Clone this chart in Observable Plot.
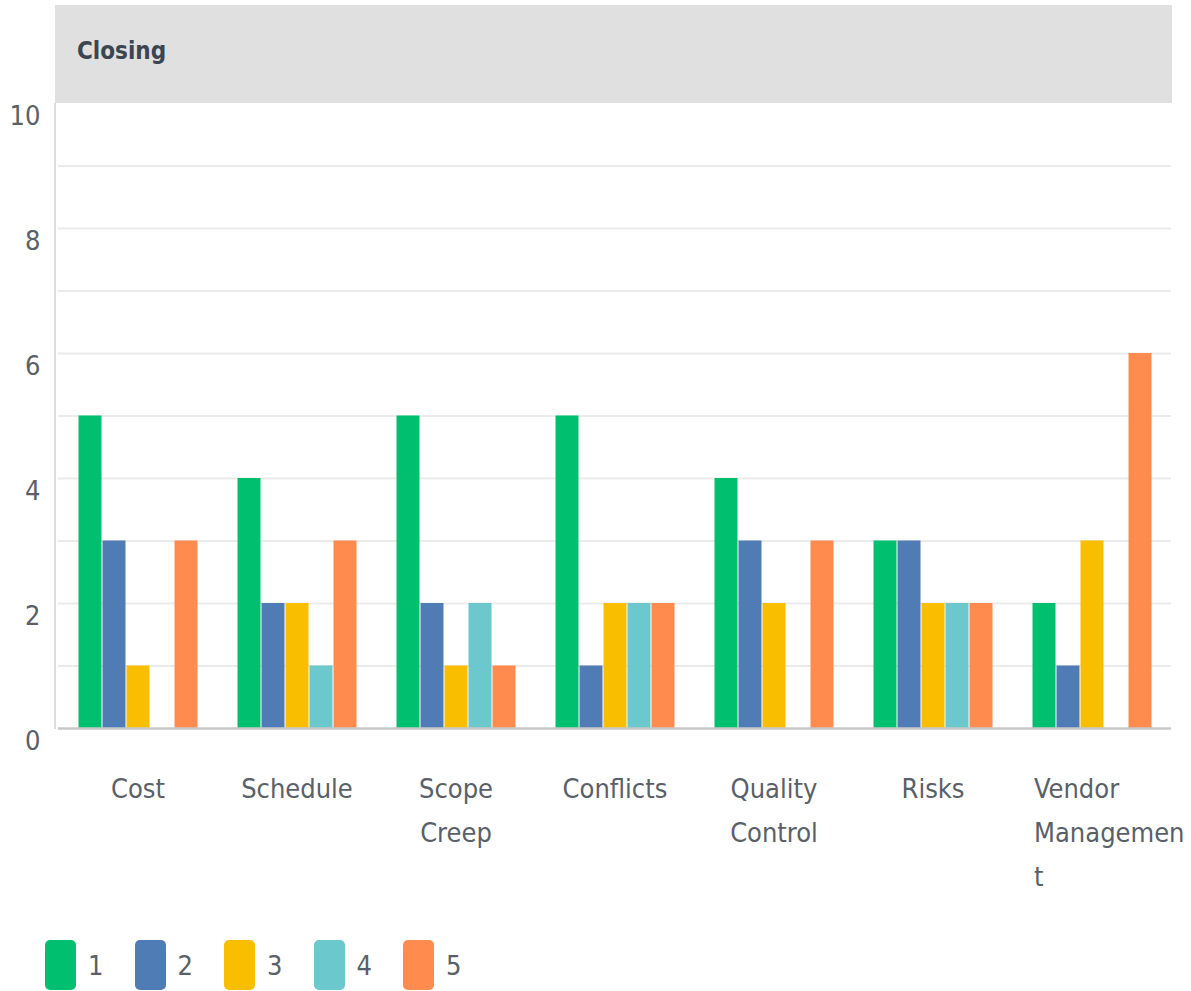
<!DOCTYPE html>
<html>
<head>
<meta charset="utf-8">
<script src="https://cdn.jsdelivr.net/npm/d3@7"></script>
<script src="https://cdn.jsdelivr.net/npm/@observablehq/plot@0.6"></script>
<style>
  html, body { margin: 0; padding: 0; background: #fff; }
  body { width: 1191px; height: 991px; overflow: hidden; position: relative;
         font-family: "DejaVu Sans Condensed", "DejaVu Sans", sans-serif; }
  #wrap { position: absolute; left: 0; top: 0; width: 1191px; height: 991px; }
  #header { position: absolute; left: 55px; top: 5px; width: 1117px; height: 98px; background: #e0e0e0;
            box-sizing: border-box; padding-left: 22px; line-height: 92px; font-size: 24px; font-weight: bold; color: #3b4650; }
  #leftline { position: absolute; left: 54px; top: 103px; width: 2px; height: 626px; background: #dcdcdc; }
  #chart { position: absolute; left: 0; top: 103px; width: 1191px; }
  #chart svg { max-width: none !important; }
  #legend { position: absolute; left: 45px; top: 940px; display: flex; }
  .item { display: flex; align-items: center; width: 89.5px; }
  .sw { width: 31px; height: 50px; border-radius: 5px; }
  .lab { margin-left: 12px; font-size: 27px; color: #5a6067; }
</style>
</head>
<body>
<div id="wrap">
  <div id="header">Closing</div>
  <div id="chart"></div>
  <div id="leftline"></div>
  <div id="legend"></div>
</div>
<script>
const categories = ["Cost", "Schedule", "Scope Creep", "Conflicts", "Quality Control", "Risks", "Vendor Management"];
const categoryLabels = ["Cost", "Schedule", "Scope\nCreep", "Conflicts", "Quality\nControl", "Risks", "Vendor\nManagemen\nt"];
const seriesNames = ["1", "2", "3", "4", "5"];
const seriesColors = ["#00BF6F", "#507CB6", "#F9BE00", "#6BC8CD", "#FF8B4F"];
const series1 = [5, 4, 5, 5, 4, 3, 2];
const series2 = [3, 2, 2, 1, 3, 3, 1];
const series3 = [1, 2, 1, 2, 2, 2, 3];
const series4 = [0, 1, 2, 2, 0, 2, 0];
const series5 = [3, 3, 1, 2, 3, 2, 6];
const yTickValues = [0, 2, 4, 6, 8, 10];
const yGridValues = [1, 2, 3, 4, 5, 6, 7, 8, 9];

const allSeries = [series1, series2, series3, series4, series5];
const table = [];
categories.forEach((c, i) => {
  seriesNames.forEach((s, j) => table.push({category: c, series: s, value: allSeries[j][i]}));
});
const labelRows = categories.map((c, i) => ({category: c, label: categoryLabels[i]}));
const lastCat = categories[categories.length - 1];

const FONT = '"DejaVu Sans Condensed", "DejaVu Sans", sans-serif';
const textColor = "#5a6067";

const plot = Plot.plot({
  width: 1191,
  height: 817,
  marginLeft: 57,
  marginRight: 19,
  marginTop: 0,
  marginBottom: 192,
  style: {fontFamily: FONT, fontSize: "27px", color: textColor, background: "transparent", overflow: "visible", maxWidth: "none"},
  fx: {domain: categories, padding: 0, axis: null, label: null},
  x: {domain: seriesNames, paddingInner: 0, paddingOuter: 0.69, axis: null, label: null},
  y: {domain: [0, 10], ticks: yTickValues, tickSize: 0, tickPadding: 18, label: null},
  color: {domain: seriesNames, range: seriesColors},
  marks: [
    Plot.ruleY(yGridValues, {stroke: "#ebebeb", strokeWidth: 2}),
    Plot.barY(table, {fx: "category", x: "series", y: "value", fill: "series", insetLeft: 0.5, insetRight: 0.5}),
    Plot.ruleY([0], {stroke: "#c9c9c9", strokeWidth: 2.5}),
    Plot.text(labelRows.filter(d => d.category !== lastCat), {fx: "category", text: "label", frameAnchor: "bottom",
      lineAnchor: "top", dy: 38, lineHeight: 1.63, fontSize: 27, fill: textColor, textAnchor: "middle"}),
    Plot.text(labelRows.filter(d => d.category === lastCat), {fx: "category", text: "label", frameAnchor: "bottom",
      lineAnchor: "top", dy: 38, dx: -58, lineHeight: 1.63, fontSize: 27, fill: textColor, textAnchor: "start"})
  ]
});

d3.select(plot).selectAll('[aria-label="y-axis tick label"] text, [aria-label="y-axis"] .tick text')
  .attr("dy", 13).attr("fill", textColor);

document.getElementById("chart").appendChild(plot);

const colorScale = plot.scale("color");
const legend = d3.select("#legend");
seriesNames.forEach(s => {
  const it = legend.append("div").attr("class", "item");
  it.append("div").attr("class", "sw").style("background", colorScale.apply(s));
  it.append("div").attr("class", "lab").text(s);
});
</script>
</body>
</html>
